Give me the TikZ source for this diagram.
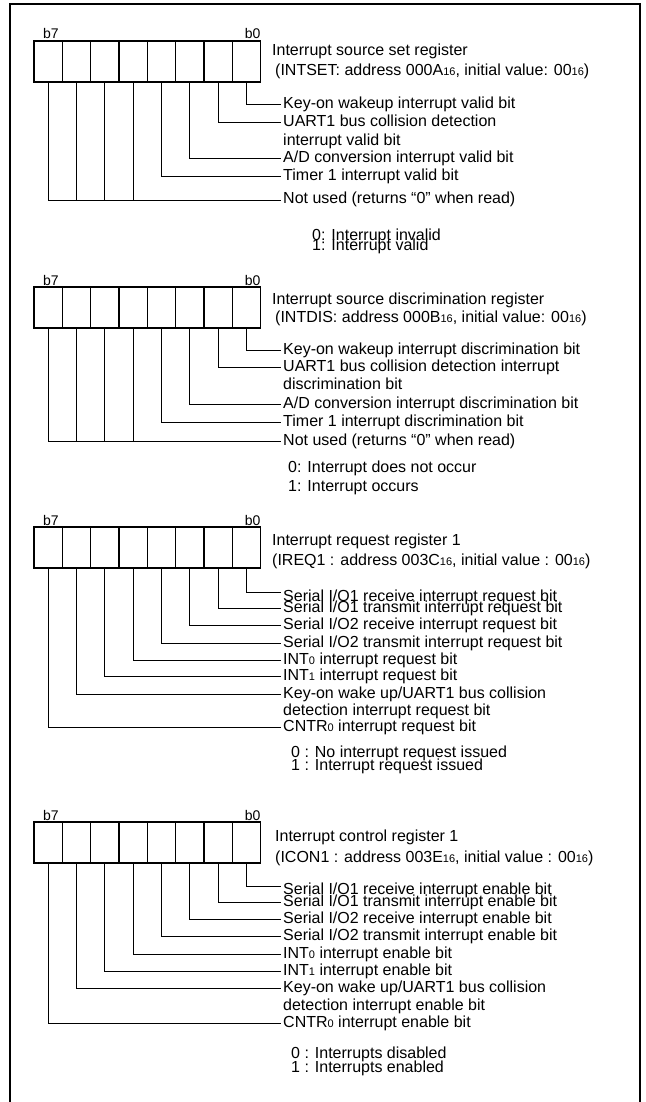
\documentclass[tikz,border=0pt]{standalone}
\usepackage{fontspec}
\setmainfont{Liberation Sans}
\usetikzlibrary{positioning}
\newcommand{\subnum}[1]{{\fontsize{11}{11}\selectfont #1}}
\tikzset{
  bitcell/.style={draw,line width=1.1pt,minimum width=28.33pt,minimum height=41pt,
    inner sep=0pt,outer sep=0pt},
  bitnum/.style={font=\fontsize{14}{14}\selectfont,inner sep=0pt,text depth=0pt},
  regtext/.style={font=\fontsize{16}{18}\selectfont,anchor=west,inner xsep=2pt,inner ysep=0pt,
    text height=11.5pt,text depth=3.5pt},
  hook/.style={line width=1pt},
  frame/.style={line width=2.5pt}
}

\begin{document}
\begin{tikzpicture}[x=1pt,y=-1pt]
  \useasboundingbox (0,0) rectangle (645,1102);
  \draw[frame] (10,1102) |- (640,4) -- (640,1102);

  \foreach \r/\yt in {1/41,2/287,3/527,4/822}{
    \foreach \i in {0,...,7}
      \node[bitcell] (r\r-b\i) at ({48.17+28.33*(7-\i)},\yt+20.5) {};
    \node[bitnum,anchor=base west] (r\r-n7) at ([xshift=9pt,yshift=2pt]r\r-b7.north west) {b7};
    \node[bitnum,anchor=base east] (r\r-n0) at ([yshift=2pt]r\r-b0.north east) {b0};
  }

  % INTSET
  \node[regtext] (r1-name) at (270,51.7) {Interrupt source set register};
  \node[regtext] (r1-addr) at (273,71.7) {(INTSET: address 000A\subnum{16}, initial value: 00\subnum{16})};
  \node[regtext] (r1-t0) at (281,105) {Key-on wakeup interrupt valid bit};
  \node[regtext] (r1-t1) at (281,123) {UART1 bus collision detection};
  \node[regtext,below=3pt of r1-t1.south west,anchor=north west] (r1-t1b) {interrupt valid bit};
  \node[regtext] (r1-t2) at (281,159) {A/D conversion interrupt valid bit};
  \node[regtext] (r1-t3) at (281,177) {Timer 1 interrupt valid bit};
  \node[regtext] (r1-t4) at (281,200) {Not used (returns ``0'' when read)};
  \node[regtext] (r1-v0) at (310,236) {0: Interrupt invalid};
  \node[regtext] (r1-v1) at (310,246) {1: Interrupt valid};
  \foreach \i in {0,...,3}
    \draw[hook] (r1-b\i.south) |- (r1-t\i.west);
  \foreach \i in {4,...,7}
    \draw[hook] (r1-b\i.south) |- (r1-t4.west);

  % INTDIS
  \node[regtext] (r2-name) at (270,300) {Interrupt source discrimination register};
  \node[regtext] (r2-addr) at (273,318) {(INTDIS: address 000B\subnum{16}, initial value: 00\subnum{16})};
  \node[regtext] (r2-t0) at (281,350) {Key-on wakeup interrupt discrimination bit};
  \node[regtext] (r2-t1) at (281,367) {UART1 bus collision detection interrupt};
  \node[regtext,below=3pt of r2-t1.south west,anchor=north west] (r2-t1b) {discrimination bit};
  \node[regtext] (r2-t2) at (281,404) {A/D conversion interrupt discrimination bit};
  \node[regtext] (r2-t3) at (281,422.5) {Timer 1 interrupt discrimination bit};
  \node[regtext] (r2-t4) at (281,441.7) {Not used (returns ``0'' when read)};
  \node[regtext] (r2-v0) at (286,468.3) {0: Interrupt does not occur};
  \node[regtext] (r2-v1) at (286,487.5) {1: Interrupt occurs};
  \foreach \i in {0,...,3}
    \draw[hook] (r2-b\i.south) |- (r2-t\i.west);
  \foreach \i in {4,...,7}
    \draw[hook] (r2-b\i.south) |- (r2-t4.west);

  % IREQ1
  \node[regtext] (r3-name) at (270,541) {Interrupt request register 1};
  \node[regtext] (r3-addr) at (270,561) {(IREQ1 : address 003C\subnum{16}, initial value : 00\subnum{16})};
  \node[regtext] (r3-t0) at (281,597) {Serial I/O1 receive interrupt request bit};
  \node[regtext] (r3-t1) at (281,608.3) {Serial I/O1 transmit interrupt request bit};
  \node[regtext] (r3-t2) at (281,625.5) {Serial I/O2 receive interrupt request bit};
  \node[regtext] (r3-t3) at (281,643.3) {Serial I/O2 transmit interrupt request bit};
  \node[regtext] (r3-t4) at (281,660.3) {INT\subnum{0} interrupt request bit};
  \node[regtext] (r3-t5) at (281,676.7) {INT\subnum{1} interrupt request bit};
  \node[regtext] (r3-t6) at (281,694) {Key-on wake up/UART1 bus collision};
  \node[regtext,below=2pt of r3-t6.south west,anchor=north west] (r3-t6b) {detection interrupt request bit};
  \node[regtext] (r3-t7) at (281,727) {CNTR\subnum{0} interrupt request bit};
  \node[regtext] (r3-v0) at (289,753) {0 : No interrupt request issued};
  \node[regtext] (r3-v1) at (289,766) {1 : Interrupt request issued};
  \draw[hook] (r3-b0.south) |- ([yshift=5pt]r3-t0.west);
  \foreach \i in {1,...,7}
    \draw[hook] (r3-b\i.south) |- (r3-t\i.west);

  % ICON1
  \node[regtext] (r4-name) at (273,837) {Interrupt control register 1};
  \node[regtext] (r4-addr) at (273,858) {(ICON1 : address 003E\subnum{16}, initial value : 00\subnum{16})};
  \node[regtext] (r4-t0) at (281,890.5) {Serial I/O1 receive interrupt enable bit};
  \node[regtext] (r4-t1) at (281,902) {Serial I/O1 transmit interrupt enable bit};
  \node[regtext] (r4-t2) at (281,919) {Serial I/O2 receive interrupt enable bit};
  \node[regtext] (r4-t3) at (281,936.7) {Serial I/O2 transmit interrupt enable bit};
  \node[regtext] (r4-t4) at (281,954.5) {INT\subnum{0} interrupt enable bit};
  \node[regtext] (r4-t5) at (281,971.7) {INT\subnum{1} interrupt enable bit};
  \node[regtext] (r4-t6) at (281,988.8) {Key-on wake up/UART1 bus collision};
  \node[regtext,below=2.5pt of r4-t6.south west,anchor=north west] (r4-t6b) {detection interrupt enable bit};
  \node[regtext] (r4-t7) at (281,1023) {CNTR\subnum{0} interrupt enable bit};
  \node[regtext] (r4-v0) at (289,1054) {0 : Interrupts disabled};
  \node[regtext] (r4-v1) at (289,1068.3) {1 : Interrupts enabled};
  \draw[hook] (r4-b0.south) |- ([yshift=4.5pt]r4-t0.west);
  \foreach \i in {1,...,7}
    \draw[hook] (r4-b\i.south) |- (r4-t\i.west);
\end{tikzpicture}
\end{document}
